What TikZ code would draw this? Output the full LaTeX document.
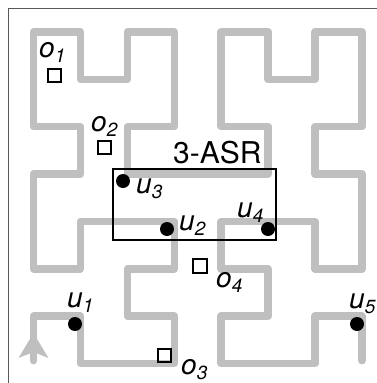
\documentclass[tikz,border=0pt]{standalone}
\usepackage{fontspec}
\setmainfont{TeX Gyre Heros}
\newcommand{\lab}[2]{{\fontsize{28}{30}\selectfont\itshape #1\raisebox{-5pt}{\fontsize{19}{19}\selectfont #2}}}
\tikzset{
  hilb/.style={line width=7.5pt, draw=black!25, line join=round, line cap=round},
  udot/.style={circle, fill=black, inner sep=0pt, minimum size=14pt},
  obs/.style={draw=black, line width=2pt, inner sep=0pt, minimum size=13.5pt},
  lbl/.style={inner sep=0pt, anchor=base west},
  frameline/.style={line width=1.2pt, draw=black!65}
}
\begin{document}
\begin{tikzpicture}[x=1pt,y=-1pt]
\useasboundingbox (0,0) rectangle (377,383);
\draw[frameline] (8.5,383) -- (8.5,8.5) -- (377,8.5);
\begin{scope}[shift={(33.5pt,-363.5pt)}, x=46.93pt, y=47.36pt]
\draw[hilb] (0,0.06) -- (0,1) -- (1,1) -- (1,0) -- (2,0) -- (3,0) -- (3,1) -- (2,1) -- (2,2) -- (3,2) -- (3,3) -- (2,3) -- (1,3) -- (1,2) -- (0,2) -- (0,3)
 -- (0,4) -- (1,4) -- (1,5) -- (0,5) -- (0,6) -- (0,7) -- (1,7) -- (1,6) -- (2,6) -- (2,7) -- (3,7) -- (3,6) -- (3,5) -- (2,5) -- (2,4) -- (3,4)
 -- (4,4) -- (5,4) -- (5,5) -- (4,5) -- (4,6) -- (4,7) -- (5,7) -- (5,6) -- (6,6) -- (6,7) -- (7,7) -- (7,6) -- (7,5) -- (6,5) -- (6,4) -- (7,4)
 -- (7,3) -- (7,2) -- (6,2) -- (6,3) -- (5,3) -- (4,3) -- (4,2) -- (5,2) -- (5,1) -- (4,1) -- (4,0) -- (5,0) -- (6,0) -- (6,1) -- (7,1) -- (7,0.06);
\end{scope}
\fill[black!25] (33.5,333) -- (48.5,358) -- (33.5,352) -- (18.5,358) -- cycle;
% 3-ASR box
\node[draw=black, line width=2pt, inner sep=0pt, minimum width=163pt, minimum height=71pt] (asr) at (194.5,204.5) {};
\node[lbl] (asrlab) at (173,163) {\fontsize{30}{32}\selectfont 3-ASR};
% users
\node[udot] (u1) at (75,324) {};
\node[udot] (u2) at (167,229) {};
\node[udot] (u3) at (123,181) {};
\node[udot] (u4) at (268,229) {};
\node[udot] (u5) at (357,324) {};
% obstacles
\node[obs] (o1) at (54.5,75.5) {};
\node[obs] (o2) at (104.5,147.5) {};
\node[obs] (o3) at (164.5,355.5) {};
\node[obs] (o4) at (200,266) {};
% labels
\node[lbl] (lo1) at (39,57) {\lab{o}{1}};
\node[lbl] (lo2) at (91,131) {\lab{o}{2}};
\node[lbl] (lo3) at (181,374) {\lab{o}{3}};
\node[lbl] (lo4) at (216,287) {\lab{o}{4}};
\node[lbl] (lu1) at (67,307) {\lab{u}{1}};
\node[lbl] (lu2) at (179,230) {\lab{u}{2}};
\node[lbl] (lu3) at (136,193) {\lab{u}{3}};
\node[lbl] (lu4) at (237,217) {\lab{u}{4}};
\node[lbl] (lu5) at (349,308) {\lab{u}{5}};
\end{tikzpicture}
\end{document}
